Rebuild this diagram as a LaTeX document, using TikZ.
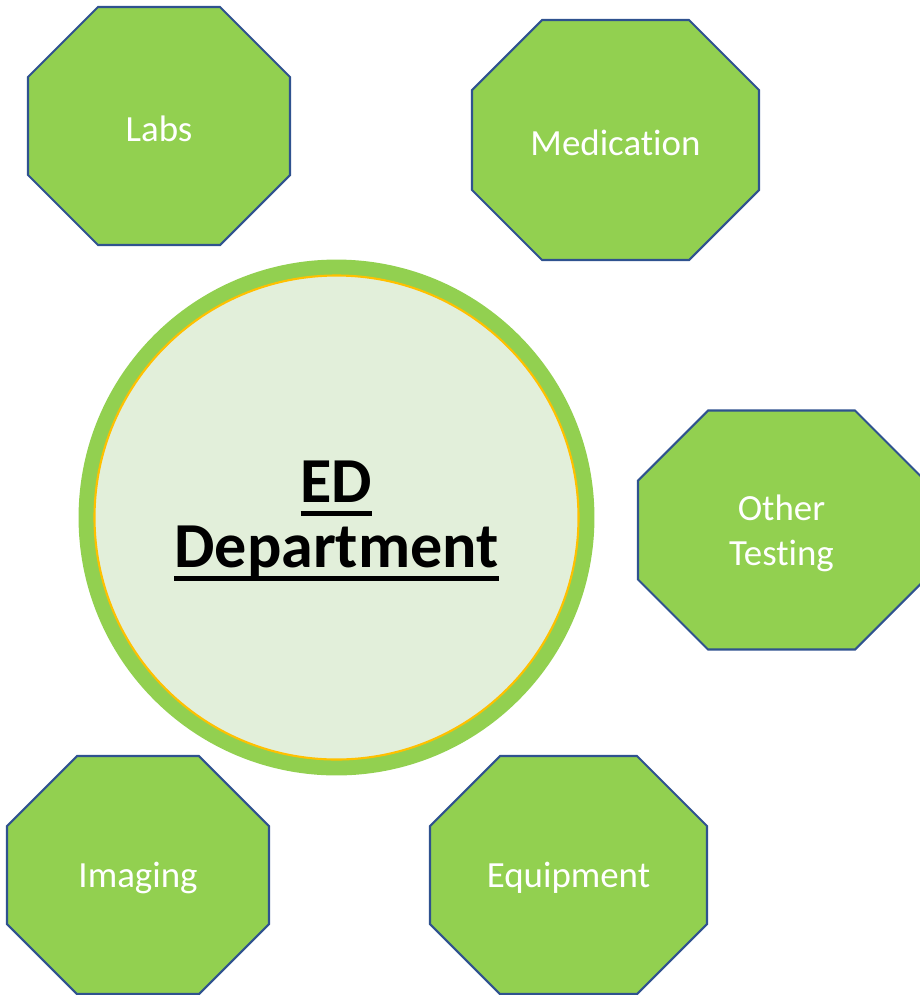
\documentclass[tikz,border=0pt]{standalone}
\usepackage{fontspec}
\setmainfont{Carlito}[Ligatures=CommonOff]
\usepackage{tikz}
\usepackage{xcolor}
\usetikzlibrary{calc,positioning}

\definecolor{octfill}{HTML}{92D050}
\definecolor{octedge}{HTML}{2F528F}
\definecolor{hubfill}{HTML}{E2EFDA}
\definecolor{hubring}{HTML}{92D050}
\definecolor{hubline}{HTML}{FFC000}

% thick underline
\newcommand\hubul[1]{\leavevmode\setbox0\hbox{#1}\rlap{\rule[-7.4pt]{\wd0}{2.8pt}}\box0}

\tikzset{
    octline/.style={draw=octedge, fill=octfill, line width=1.2pt, line join=miter},
    octtext/.style={text=white, align=center, font=\fontsize{21}{25.5}\selectfont},
    hub/.style={circle, draw=hubring, fill=hubfill, line width=0.32cm, minimum size=10cm, inner sep=0pt},
    hubtext/.style={align=center, font=\fontsize{36.5}{37}\selectfont\bfseries}
}

% octagon box: name, cx, cy, width, height, cut, text
\newcommand\octbox[7]{%
    \begin{scope}[shift={(#2,#3)}]
        \draw[octline] (-#4/2+#6,-#5/2) -- (#4/2-#6,-#5/2) -- (#4/2,-#5/2+#6) -- (#4/2,#5/2-#6)
            -- (#4/2-#6,#5/2) -- (-#4/2+#6,#5/2) -- (-#4/2,#5/2-#6) -- (-#4/2,-#5/2+#6) -- cycle;
    \end{scope}
    \node[octtext] (#1) at (#2,#3+3) {#7};
}

\begin{document}
\begin{tikzpicture}[x=0.02cm, y=-0.02cm]
    \useasboundingbox (0,0) rectangle (920,995);

    \node[hub] (ed) at (336.5,517.5) {};
    \draw[hubline, line width=1.2pt] (ed.center) circle (242);
    \node[hubtext] (edtext) at (336.5,521) {\hubul{ED}\\\hubul{Department}};

    \octbox{labs}{159}{126}{262}{238}{70}{Labs}
    \octbox{meds}{615.5}{140}{287}{240}{70}{Medication}
    \octbox{other}{781.5}{530}{287}{239}{70}{Other\\Testing}
    \octbox{imaging}{138}{875}{262}{238}{70}{Imaging}
    \octbox{equip}{568.5}{875}{277}{238}{70}{Equipment}
\end{tikzpicture}
\end{document}
